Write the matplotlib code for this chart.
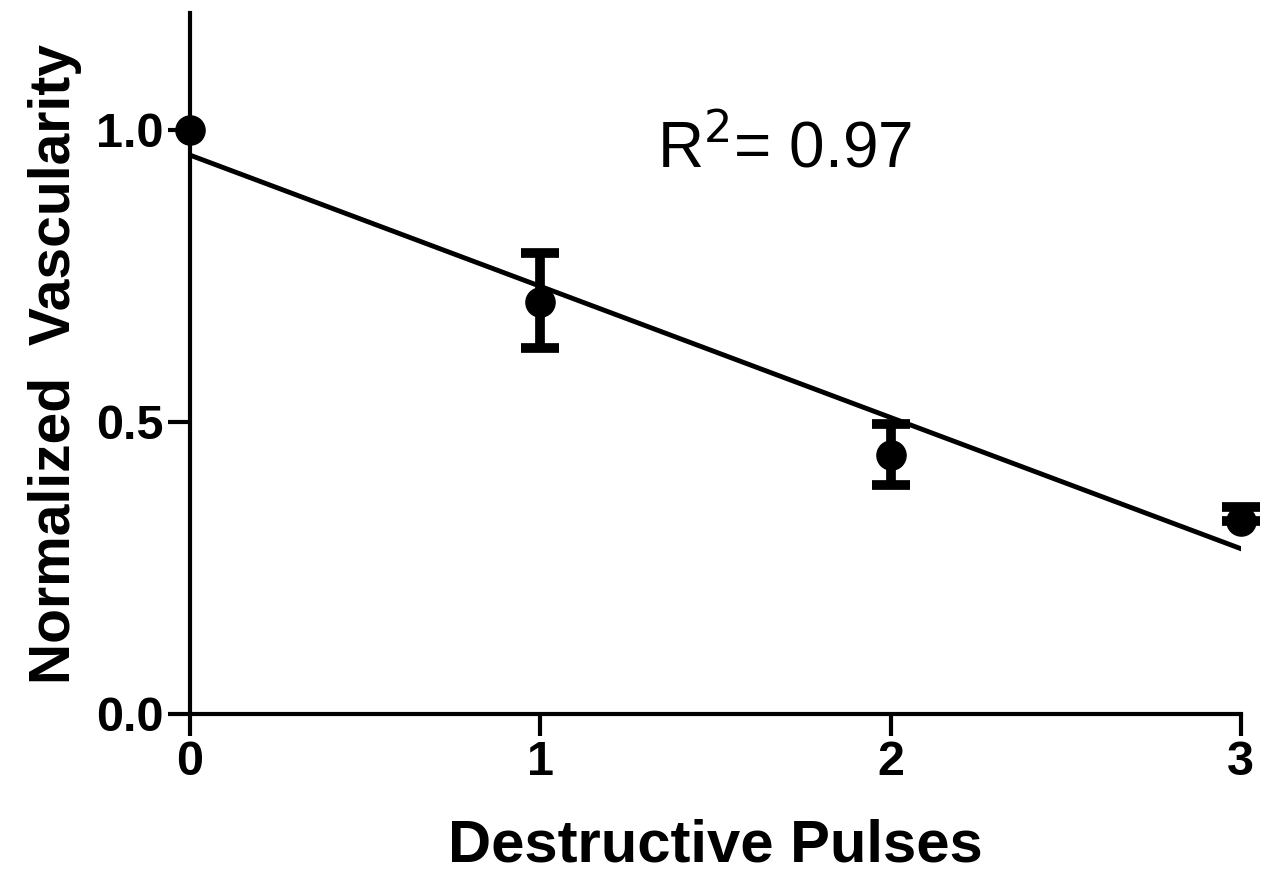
import numpy as np
import matplotlib
matplotlib.use("Agg")
import matplotlib.pyplot as plt

# Data
pulses = [0, 1, 2, 3]
vascularity = [1.0, 0.705, 0.443, 0.330]
err_low = [0.0, 0.078, 0.051, 0.0]
err_high = [0.0, 0.084, 0.054, 0.024]

# Linear fit shown on the plot
fit_slope = -0.2247
fit_intercept = 0.957
r_squared = 0.97

plt.rcParams['font.family'] = ['Liberation Sans', 'DejaVu Sans']

fig = plt.figure(figsize=(12.74, 8.77), dpi=100)
ax = fig.add_axes([0.149, 0.186, 0.825, 0.799])

# regression line
xfit = np.array([pulses[0], pulses[-1]])
ax.plot(xfit, fit_slope * xfit + fit_intercept, color='black', lw=3.5, zorder=2)

# error bars (none drawn for the normalization point at 0)
ax.errorbar(pulses, vascularity, yerr=[err_low, err_high], fmt='none', ecolor='black',
            elinewidth=7, capsize=14, capthick=7, errorevery=(1, 1),
            clip_on=False, zorder=3)
ax.plot(pulses, vascularity, 'o', color='black', markersize=21, clip_on=False, zorder=4)

ax.text(0.566, 0.805, f'R$^2$= {r_squared:.2f}', transform=ax.transAxes,
        fontsize=46, ha='center', va='center')

ax.set_xlim(0, 3)
ax.set_ylim(0, 1.2)
ax.set_xticks([0, 1, 2, 3])
ax.set_yticks([0.0, 0.5, 1.0])
ax.set_yticklabels(['0.0', '0.5', '1.0'])
ax.spines['top'].set_visible(False)
ax.spines['right'].set_visible(False)
for s in ['left', 'bottom']:
    ax.spines[s].set_linewidth(3)
ax.tick_params(direction='out', length=16, width=3, labelsize=35, pad=3)
for lab in ax.get_xticklabels() + ax.get_yticklabels():
    lab.set_fontweight('bold')

ax.set_xlabel('Destructive Pulses', fontsize=43, fontweight='bold', labelpad=24)
ax.set_ylabel('Normalized  Vascularity', fontsize=41, fontweight='bold', labelpad=10)

fig.savefig('out.png', dpi=100)
